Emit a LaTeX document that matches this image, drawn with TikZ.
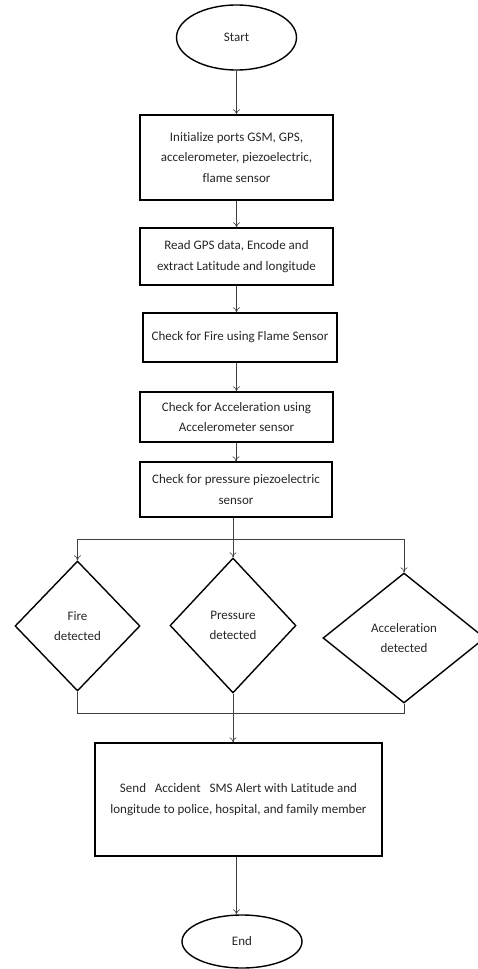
\documentclass[tikz,border=0pt]{standalone}
\usepackage{fontspec}
\setmainfont[Ligatures=NoCommon]{Carlito}
\usetikzlibrary{shapes.geometric,arrows.meta}
\begin{document}
\begin{tikzpicture}[x=1pt,y=-1pt,
  txt/.style={font=\fontsize{13}{20.5}\selectfont, text=black!85},
  box/.style={draw, line width=1.4pt, align=center, inner sep=0pt, txt},
  term/.style={ellipse, draw, line width=1.4pt, inner sep=0pt, txt},
  dec/.style={diamond, draw, line width=1.4pt, inner sep=0pt, align=center, txt},
  conn/.style={line width=0.6pt, draw=black!75},
  arr/.style={conn, -{To[length=5pt,width=7pt]}}]
\useasboundingbox (0,0) rectangle (477,969);
\node[term, minimum width=120pt, minimum height=65pt] (start) at (236.5,37.5) {Start};
\node[box, minimum width=193pt, minimum height=85pt] (b1) at (236.5,157.5) {Initialize ports GSM, GPS,\\accelerometer, piezoelectric,\\flame sensor};
\node[box, minimum width=193pt, minimum height=57pt] (b2) at (236.5,256.5) {Read GPS data, Encode and\\extract Latitude and longitude};
\node[box, minimum width=194pt, minimum height=49pt] (b3) at (240,337.5) {Check for Fire using Flame Sensor};
\node[box, minimum width=193pt, minimum height=50pt] (b4) at (236.5,417) {Check for Acceleration using\\Accelerometer sensor};
\node[box, minimum width=192pt, minimum height=55pt] (b5) at (236,489.5) {Check for pressure piezoelectric\\sensor};
\node[dec, minimum width=125pt, minimum height=130pt] (fire) at (77.5,626) {Fire\\detected};
\node[dec, minimum width=126pt, minimum height=135pt] (pres) at (233,625.5) {Pressure\\detected};
\node[dec, minimum width=162pt, minimum height=130pt] (acc) at (404,638) {Acceleration\\detected};
\node[box, minimum width=287pt, minimum height=113pt] (b6) at (238.5,799.5) {Send\ \ \ Accident\ \ \ SMS Alert with Latitude and\\longitude to police, hospital, and family member};
\node[term, minimum width=120pt, minimum height=53pt] (end) at (242,941.5) {End};
\coordinate (split) at (0,539);
\coordinate (join) at (0,713);
\draw[arr] (start.south) -- (start.south |- b1.north);
\draw[arr] (b1.south -| start.south) -- (b2.north -| start.south);
\draw[arr] (b2.south -| start.south) -- (b3.north -| start.south);
\draw[arr] (b3.south -| start.south) -- (b4.north -| start.south);
\draw[arr] (b4.south -| b5.south) -- (b5.north);
\draw[conn] (pres.north |- b5.south) -- (pres.north |- split);
\draw[conn] (fire.north |- split) -- (acc.north |- split);
\draw[arr] (fire.north |- split) -- (fire.north);
\draw[arr] (pres.north |- split) -- (pres.north);
\draw[arr] (acc.north |- split) -- (acc.north);
\draw[conn] (fire.south) -- (fire.south |- join) -- (acc.south |- join) -- (acc.south);
\draw[arr] (pres.south) -- (pres.south |- b6.north);
\draw[arr] (b6.south -| start.south) -- (end.north -| start.south);
\end{tikzpicture}
\end{document}
